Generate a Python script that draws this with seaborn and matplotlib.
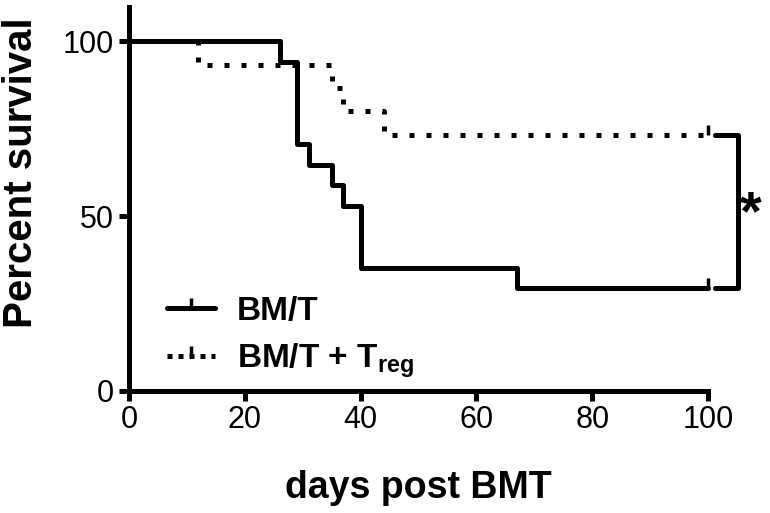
import matplotlib
matplotlib.use("Agg")
import matplotlib.pyplot as plt
from matplotlib.lines import Line2D
from matplotlib.path import Path
import seaborn as sns
import pandas as pd

# ---- data ----
days_bmt = [0, 26, 29, 31, 35, 37, 40, 67, 100]
surv_bmt = [100, 94.1, 70.6, 64.7, 58.8, 52.9, 35.3, 29.4, 29.4]
days_treg = [0, 12, 35, 37, 44, 100]
surv_treg = [100, 93.3, 86.7, 80.0, 73.3, 73.3]
censor_bmt_days = [100]
censor_bmt_surv = [29.4]
censor_treg_days = [100]
censor_treg_surv = [73.3]
x_ticks = [0, 20, 40, 60, 80, 100]
y_ticks = [0, 50, 100]
labels = ["BM/T", r"BM/T + T$_{\mathbf{reg}}$"]

sns.set_style("ticks")
plt.rcParams["font.family"] = ["Liberation Sans", "DejaVu Sans"]
plt.rcParams["mathtext.fontset"] = "custom"
plt.rcParams["mathtext.rm"] = "Liberation Sans"
plt.rcParams["mathtext.bf"] = "Liberation Sans:bold"
plt.rcParams["axes.linewidth"] = 3.6
for k in ["text.color", "axes.labelcolor", "xtick.color", "ytick.color",
          "axes.edgecolor"]:
    plt.rcParams[k] = "black"

fig = plt.figure(figsize=(7.7, 5.13), dpi=100)
ax = fig.add_axes([129 / 770, (513 - 391) / 513, 637 / 770, 384.5 / 513])

lw = 3.6
df_b = pd.DataFrame({"day": days_bmt, "surv": surv_bmt})
df_t = pd.DataFrame({"day": days_treg, "surv": surv_treg})

sns.lineplot(data=df_t, x="day", y="surv", ax=ax, color="black", lw=lw,
             drawstyle="steps-post", estimator=None, legend=False)
ax.lines[-1].set_linestyle((0, (1, 2.4)))
ax.lines[-1].set_dash_capstyle("butt")
sns.lineplot(data=df_b, x="day", y="surv", ax=ax, color="black", lw=lw,
             drawstyle="steps-post", estimator=None, legend=False)

tick_marker = Path([(0, 0), (0, 1)])
ax.plot(censor_bmt_days, censor_bmt_surv, ls="none", marker=tick_marker,
        ms=14, mew=2.5, color="black", clip_on=False)
ax.plot(censor_treg_days, censor_treg_surv, ls="none", marker=tick_marker,
        ms=14, mew=2.5, color="black", clip_on=False)

# significance bracket
ax.plot([101.2, 105.2, 105.2, 101.2], [73.3, 73.3, 29.4, 29.4],
        color="black", lw=lw, solid_capstyle="round", clip_on=False)
ax.text(107.4, 50.3, "*", fontsize=40, fontweight="bold", ha="center",
        va="center", clip_on=False)

ax.set_xlim(0, 110)
ax.set_ylim(0, 110)
ax.set_xticks(x_ticks)
ax.set_yticks(y_ticks)
ax.spines["top"].set_visible(False)
ax.spines["right"].set_visible(False)
ax.spines["bottom"].set_bounds(0, 100)
ax.spines["left"].set_bounds(0, 110)
ax.tick_params(axis="both", length=7, width=3.6, labelsize=22, direction="out",
               colors="black")
ax.tick_params(axis="x", pad=3)
ax.tick_params(axis="y", pad=4)

ax.set_xlabel("days post BMT", fontsize=27, fontweight="bold")
ax.set_ylabel("Percent survival", fontsize=29, fontweight="bold")
ax.xaxis.label.set_va("center")
ax.xaxis.set_label_coords(0.4537, -0.252)
ax.yaxis.label.set_va("center")
ax.yaxis.set_label_coords(-0.1695, 0.567)

h1 = Line2D([], [], color="black", lw=lw, marker=tick_marker, ms=14, mew=2.5)
h2 = Line2D([], [], color="black", lw=lw, ls=(0, (1, 1.2)), marker=tick_marker,
            ms=14, mew=2.5, dash_capstyle="butt")
leg = ax.legend([h1, h2], labels, loc="center left",
                bbox_to_anchor=(167 / 770, 1 - 338 / 513),
                bbox_transform=fig.transFigure, frameon=False,
                borderpad=0, borderaxespad=0, handlelength=1.45,
                handletextpad=0.65, labelspacing=0.45, numpoints=1,
                prop={"size": 24, "weight": "bold"})

fig.savefig("out.png", dpi=100)
